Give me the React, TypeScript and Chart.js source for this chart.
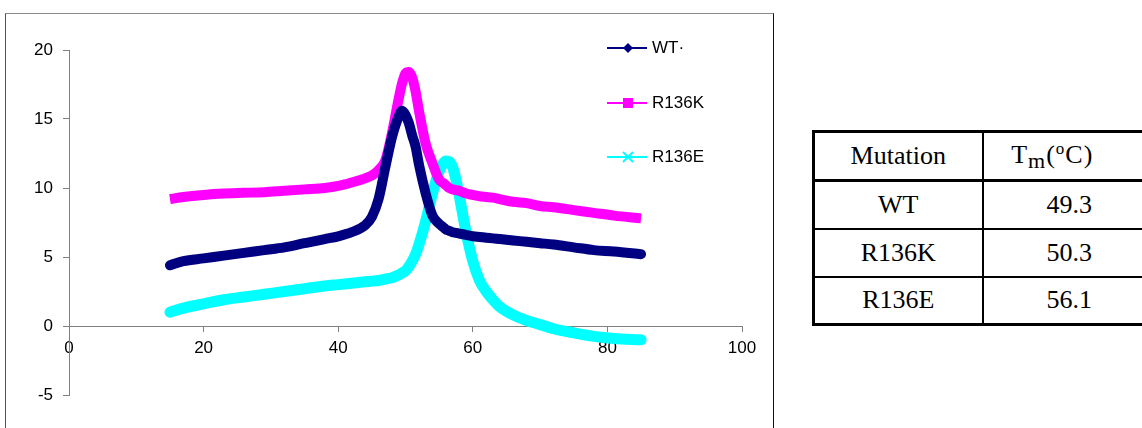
import React, { useEffect, useRef } from "react";
import { Chart, registerables } from "chart.js";

Chart.register(...registerables);

// Temperature (°C) sample points
const temps = [15, 17, 20, 23, 26, 29, 32, 35, 38, 40, 42, 44, 45, 46, 47, 48, 49, 49.5, 50, 50.5, 51, 51.5, 52, 53, 54, 55, 55.5, 56, 56.5, 57, 57.5, 58, 59, 60, 61, 62, 63, 64, 66, 68, 70, 72, 75, 78, 81, 85];

const wtValues = [4.4, 4.7, 4.9, 5.1, 5.3, 5.5, 5.7, 6.0, 6.3, 6.5, 6.8, 7.3, 7.9, 9.2, 11.5, 13.7, 15.2, 15.6, 15.3, 14.7, 13.8, 13.0, 11.7, 9.6, 8.0, 7.4, 7.2, 7.0, 6.9, 6.8, 6.75, 6.7, 6.6, 6.5, 6.45, 6.4, 6.35, 6.3, 6.2, 6.1, 6.0, 5.9, 5.7, 5.5, 5.4, 5.2];

const r136kValues = [9.2, 9.35, 9.5, 9.6, 9.65, 9.7, 9.8, 9.9, 10.0, 10.15, 10.4, 10.7, 10.9, 11.3, 12.0, 14.0, 16.5, 17.6, 18.3, 18.4, 18.0, 17.0, 15.6, 13.2, 11.8, 10.6, 10.4, 10.2, 10.0, 9.9, 9.85, 9.8, 9.6, 9.5, 9.4, 9.35, 9.3, 9.2, 9.0, 8.9, 8.7, 8.6, 8.4, 8.2, 8.0, 7.8];

const r136eValues = [1.0, 1.3, 1.6, 1.9, 2.1, 2.3, 2.5, 2.7, 2.9, 3.0, 3.1, 3.2, 3.25, 3.3, 3.4, 3.5, 3.7, 3.85, 4.0, 4.3, 4.7, 5.2, 5.9, 7.6, 9.6, 11.2, 11.7, 11.95, 11.9, 11.5, 10.6, 9.4, 6.8, 4.7, 3.3, 2.5, 1.9, 1.4, 0.8, 0.4, 0.1, -0.2, -0.5, -0.75, -0.9, -1.0];

const xTicks = [0, 20, 40, 60, 80, 100];
const yTicks = [-5, 0, 5, 10, 15, 20];

const seriesNames = ["WT·", "R136K", "R136E"];
const seriesColors = ["#000080", "#FF00FF", "#00FFFF"];

const mutations = ["WT", "R136K", "R136E"];
const tmValues = ["49.3", "50.3", "56.1"];

const toPoints = (vals: number[]) => temps.map((t, i) => ({ x: t, y: vals[i] }));

function LegendMarker({ kind, color }: { kind: number; color: string }) {
  return (
    <svg width={44} height={14} style={{ position: "absolute", left: 605, top: -7 }}>
      <line x1={2} y1={7} x2={42} y2={7} stroke={color} strokeWidth={2} />
      {kind === 0 && <polygon points="23,2 28,7 23,12 18,7" fill={color} />}
      {kind === 1 && <rect x={18} y={2} width={10} height={10} fill={color} />}
      {kind === 2 && (
        <g stroke={color} strokeWidth={2}>
          <line x1={18} y1={2} x2={28} y2={12} />
          <line x1={28} y1={2} x2={18} y2={12} />
        </g>
      )}
    </svg>
  );
}

export default function App() {
  const canvasRef = useRef<HTMLCanvasElement | null>(null);

  useEffect(() => {
    const canvas = canvasRef.current;
    if (!canvas) return;
    const widths = [10, 10, 11];
    const chart = new Chart(canvas, {
      type: "line",
      data: {
        datasets: [wtValues, r136kValues, r136eValues].map((vals, i) => ({
          label: seriesNames[i],
          data: toPoints(vals),
          borderColor: seriesColors[i],
          backgroundColor: seriesColors[i],
          borderWidth: widths[i],
          pointRadius: 0,
          cubicInterpolationMode: "monotone" as const,
          borderCapStyle: i === 1 ? ("butt" as const) : ("round" as const),
          borderJoinStyle: "round" as const,
          fill: false,
        })),
      },
      options: {
        animation: false,
        responsive: false,
        maintainAspectRatio: false,
        layout: { padding: { left: 10, top: 50, right: 38, bottom: 33 } },
        plugins: { legend: { display: false }, tooltip: { enabled: false } },
        scales: {
          x: {
            type: "linear",
            min: 0,
            max: 100,
            position: { y: 0 } as any,
            afterBuildTicks: (s: any) => {
              s.ticks = xTicks.map((v) => ({ value: v }));
            },
            afterFit: (s: any) => {
              s.height = 0;
            },
            grid: { display: true, drawOnChartArea: false, drawTicks: true, tickLength: 5, color: "#808080" },
            border: { display: true, color: "#808080", width: 1 },
            ticks: {
              color: "#000",
              font: { family: "Liberation Sans", size: 17 },
              padding: 7,
              maxRotation: 0,
              autoSkip: false,
            },
          },
          y: {
            type: "linear",
            min: -5,
            max: 20,
            afterBuildTicks: (s: any) => {
              s.ticks = yTicks.map((v) => ({ value: v }));
            },
            afterFit: (s: any) => {
              s.width = 59;
            },
            grid: { display: true, drawOnChartArea: false, drawTicks: true, tickLength: 6, color: "#808080" },
            border: { display: true, color: "#808080", width: 1 },
            ticks: {
              color: "#000",
              font: { family: "Liberation Sans", size: 17 },
              padding: 10,
              autoSkip: false,
            },
          },
        },
      },
    });
    return () => chart.destroy();
  }, []);

  const legendY = [48, 103, 157];
  const borderThin = "2px solid #000";
  const cellBase: React.CSSProperties = {
    fontFamily: "'Liberation Serif', 'Times New Roman', serif",
    fontSize: 26,
    color: "#000",
    textAlign: "center",
    verticalAlign: "middle",
    padding: 0,
    whiteSpace: "nowrap",
  };

  return (
    <div
      style={{
        position: "fixed",
        left: 0,
        top: 0,
        width: 1142,
        height: 428,
        overflow: "hidden",
        background: "#fff",
      }}
    >
      <div
        style={{
          position: "absolute",
          left: 5,
          top: 13,
          width: 767,
          height: 440,
          borderTop: "1px solid #8a8a8a",
          borderLeft: "1px solid #555",
          borderRight: "1px solid #111",
        }}
      />
      <canvas
        ref={canvasRef}
        width={780}
        height={428}
        style={{ position: "absolute", left: 0, top: 0, width: 780, height: 428 }}
      />
      {seriesNames.map((name, i) => (
        <div key={name} style={{ position: "absolute", left: 0, top: legendY[i], width: 0, height: 0 }}>
          <LegendMarker kind={i} color={seriesColors[i]} />
          <span
            style={{
              position: "absolute",
              left: 652,
              top: -10,
              fontFamily: "'Liberation Sans', Arial, sans-serif",
              fontSize: 17,
              lineHeight: "20px",
              color: "#000",
              whiteSpace: "nowrap",
            }}
          >
            {name}
          </span>
        </div>
      ))}
      <table
        style={{
          position: "absolute",
          left: 812,
          top: 130,
          width: 343,
          borderCollapse: "collapse",
          border: "3px solid #000",
          tableLayout: "fixed",
        }}
      >
        <colgroup>
          <col style={{ width: 169 }} />
          <col style={{ width: 174 }} />
        </colgroup>
        <tbody>
          <tr style={{ height: 49, borderBottom: "3px solid #000" }}>
            <td style={{ ...cellBase, borderRight: borderThin }}>Mutation</td>
            <td style={{ ...cellBase, paddingRight: 34, letterSpacing: 1 }}>
              T
              <sub style={{ fontSize: 22, verticalAlign: "-5px" }}>m</sub>
              (
              <sup style={{ fontSize: 17, verticalAlign: "9px" }}>o</sup>
              C)
            </td>
          </tr>
          {mutations.map((m, i) => (
            <tr key={m} style={{ height: 48, borderBottom: i < mutations.length - 1 ? borderThin : "3px solid #000" }}>
              <td style={{ ...cellBase, borderRight: borderThin }}>{m}</td>
              <td style={cellBase}>{tmValues[i]}</td>
            </tr>
          ))}
        </tbody>
      </table>
    </div>
  );
}
